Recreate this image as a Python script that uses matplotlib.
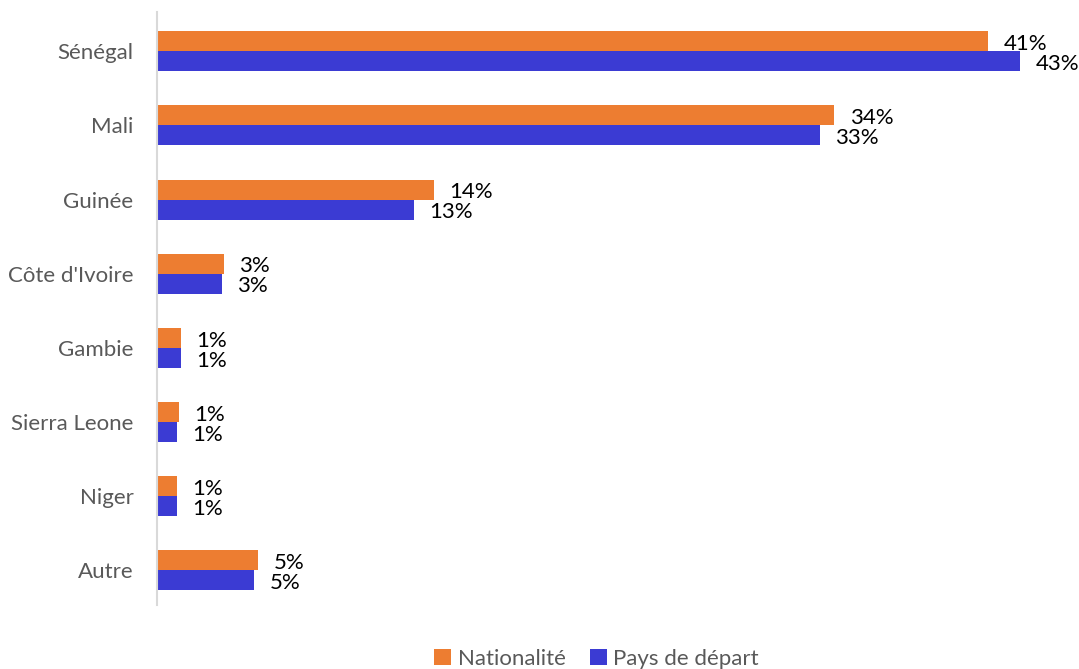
import matplotlib.pyplot as plt
import numpy as np

plt.rcParams['font.family'] = ['Lato', 'DejaVu Sans']

# Data (shares in %)
countries = ["Sénégal", "Mali", "Guinée", "Côte d'Ivoire", "Gambie",
             "Sierra Leone", "Niger", "Autre"]
nationalite = [41.1, 33.5, 13.7, 3.3, 1.2, 1.1, 1.0, 5.0]
pays_depart = [42.7, 32.8, 12.7, 3.2, 1.2, 1.0, 1.0, 4.8]

orange = "#ED7D31"
blue = "#3B3BD3"

fig = plt.figure(figsize=(10.79, 6.69), dpi=100)
ax = fig.add_axes([0.1455, 0.0957, 0.8545, 0.8863])

y = np.arange(len(countries))
h = 0.27
ax.barh(y - h / 2, nationalite, height=h, color=orange, label="Nationalité")
ax.barh(y + h / 2, pays_depart, height=h, color=blue, label="Pays de départ")

for yi, v in zip(y, nationalite):
    ax.annotate(f"{round(v)}%", (v, yi - h / 2), xytext=(11, -2),
                textcoords="offset points", ha="left", va="center",
                fontsize=16, color="black")
for yi, v in zip(y, pays_depart):
    ax.annotate(f"{round(v)}%", (v, yi + h / 2), xytext=(11, -2),
                textcoords="offset points", ha="left", va="center",
                fontsize=16, color="black")

ax.set_yticks(y)
ax.set_yticklabels(countries, fontsize=16, color="#595959")
ax.set_ylim(7.47, -0.53)
ax.set_xlim(0, 45.6)
ax.set_xticks([])
ax.tick_params(axis="y", length=0, pad=17)
for s in ["top", "right", "bottom"]:
    ax.spines[s].set_visible(False)
ax.spines["left"].set_color("#D9D9D9")
ax.spines["left"].set_linewidth(1.5)

fig.legend(loc="lower center", bbox_to_anchor=(0.553, -0.03), ncol=2,
           frameon=False, fontsize=16, handlelength=0.75, handleheight=0.75,
           handletextpad=0.3, columnspacing=1.1, labelcolor="#595959")

fig.savefig("out.png", dpi=100)
